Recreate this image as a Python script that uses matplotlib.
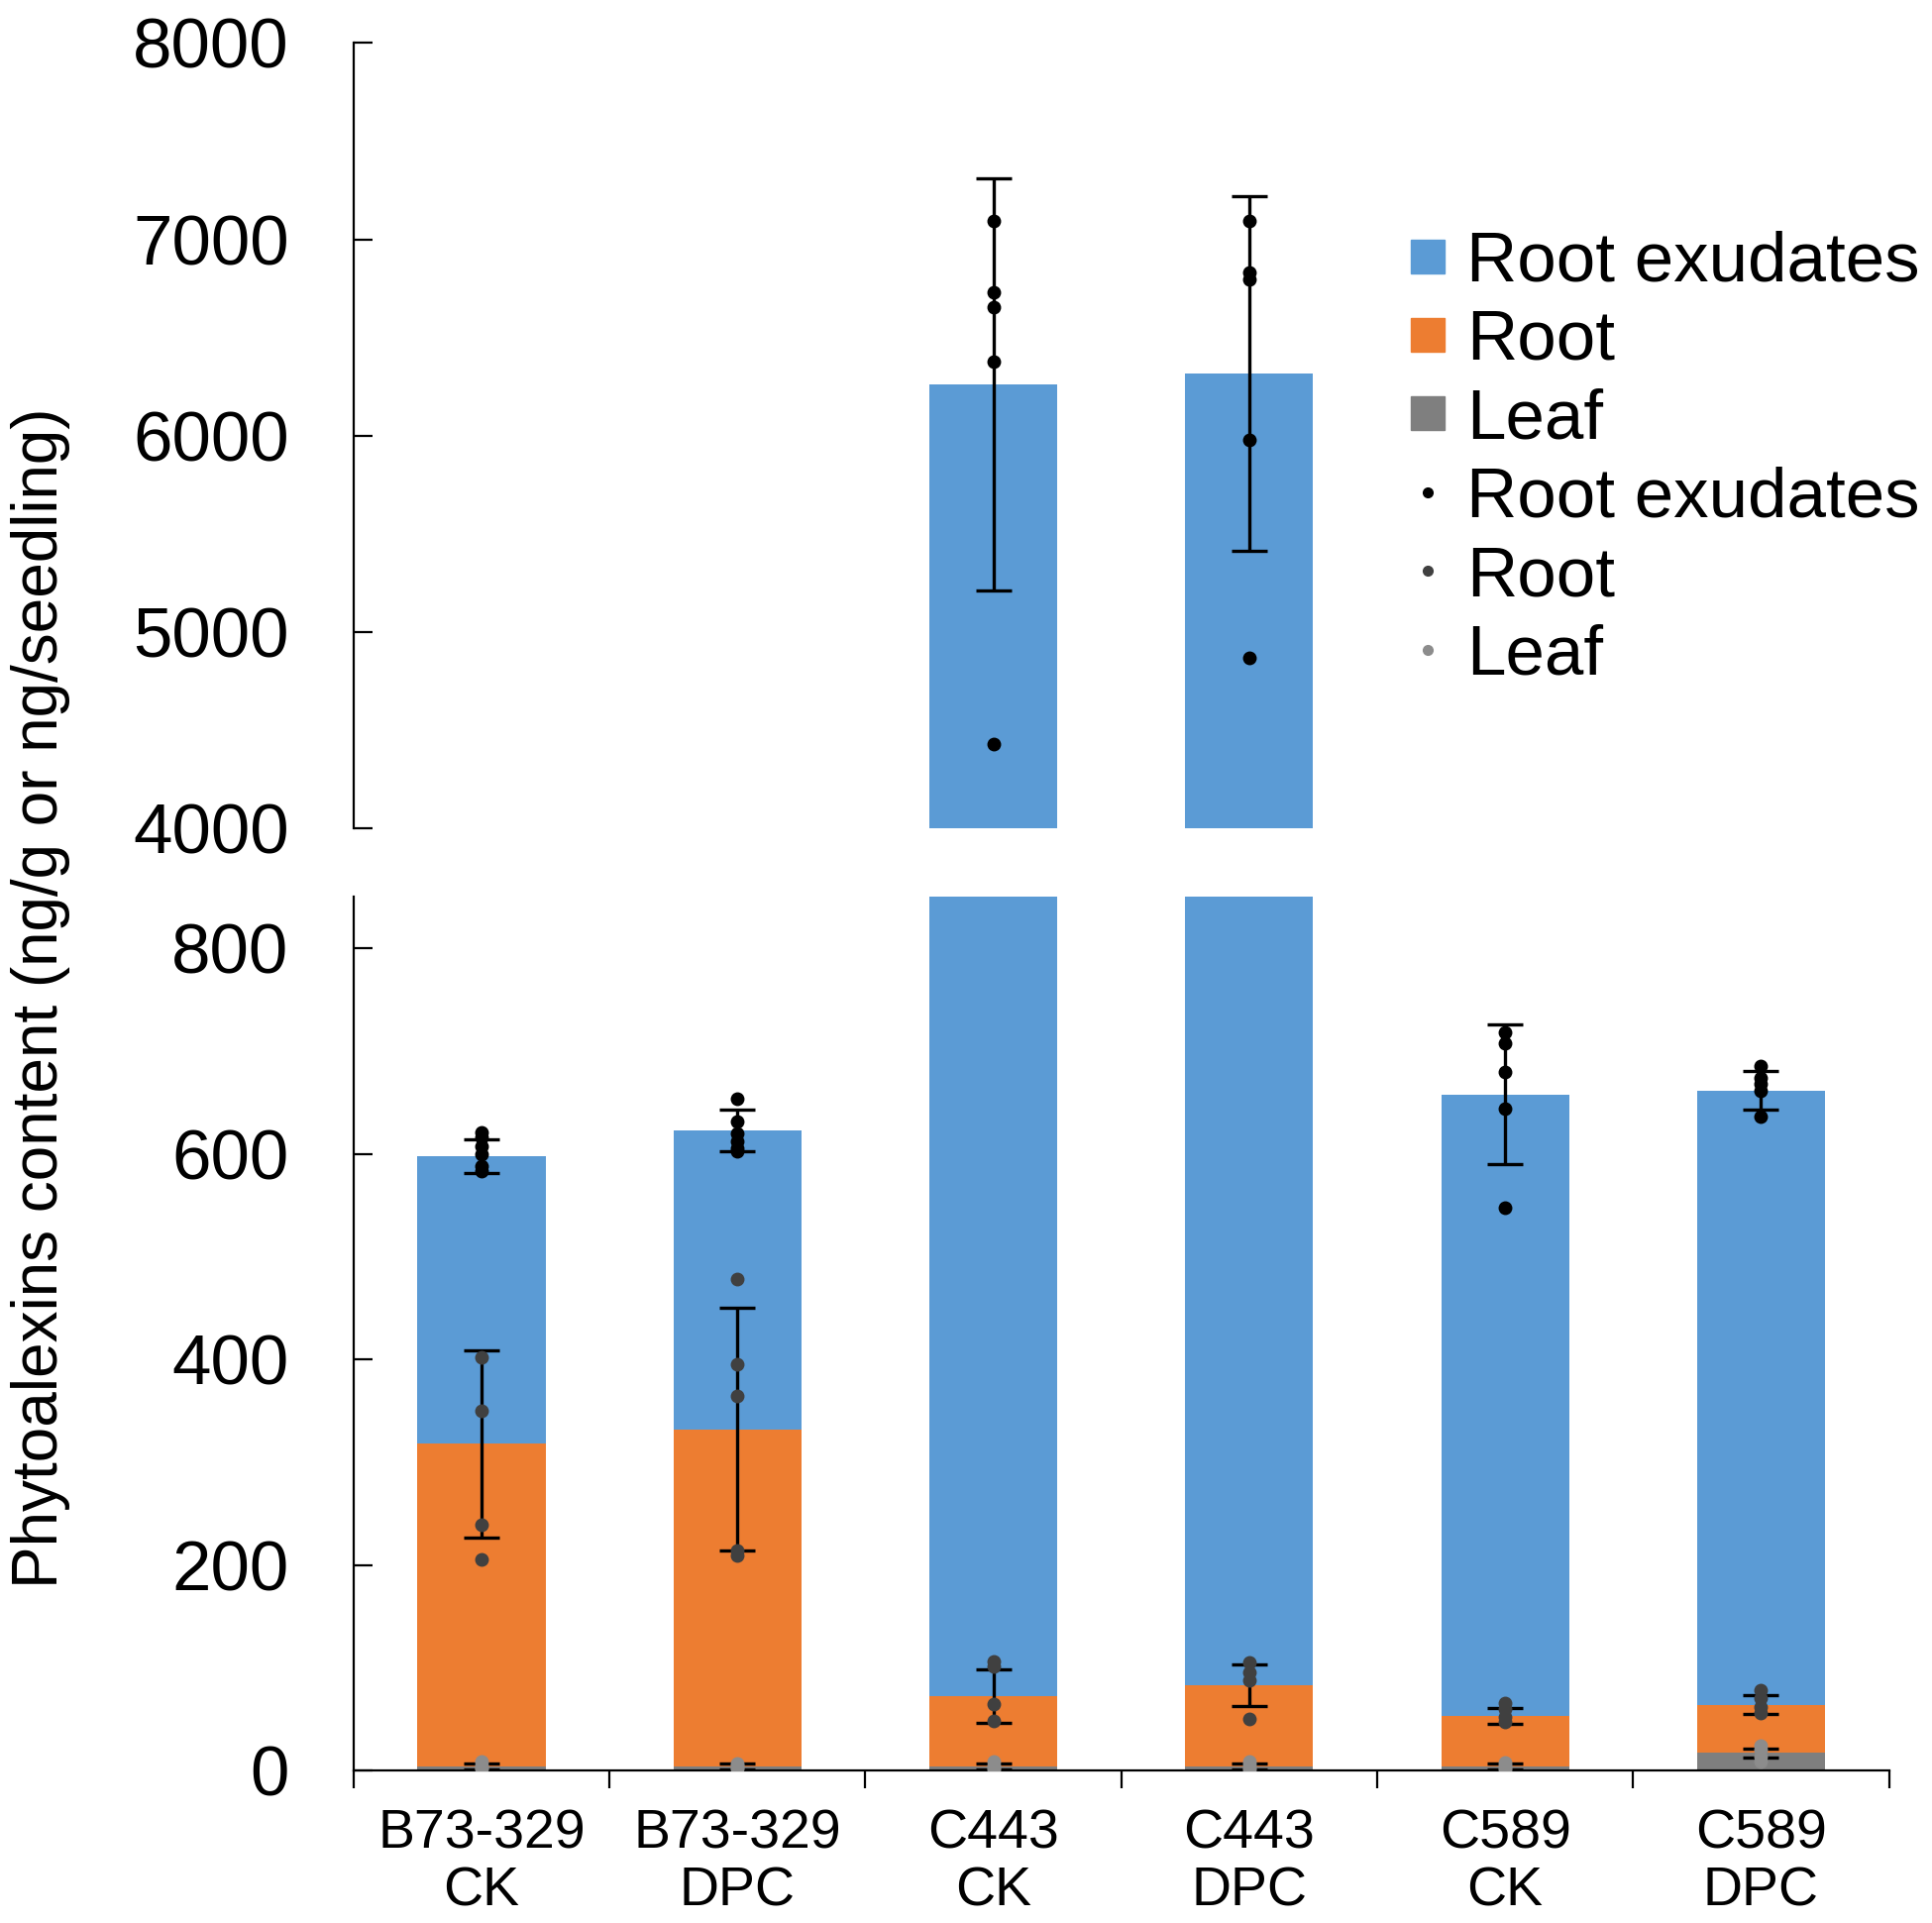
"""Phytoalexin content per organ: stacked bars with a broken y axis."""
import matplotlib

matplotlib.use("Agg")
import matplotlib.pyplot as plt
from matplotlib.lines import Line2D
import numpy as np

plt.rcParams["font.family"] = ["Liberation Sans", "DejaVu Sans"]

groups = ["B73-329\nCK", "B73-329\nDPC", "C443\nCK", "C443\nDPC", "C589\nCK", "C589\nDPC"]

# component means and SDs
leaf_mean = [4, 4, 4, 4, 4, 17]
leaf_sd = [3, 3, 3, 3, 3, 4.5]
root_mean = [314, 328, 68, 79, 49, 47]
root_sd = [91, 118, 26, 20, 7.5, 9]
exud_mean = [280, 291, 6188, 6233, 605, 598]
exud_sd = [16.5, 20, 1051, 902, 68, 18.5]

# replicate points, as plotted on the stacked bars
leaf_pts = [[9, 5, 3, 2], [7, 5, 3, 2], [9, 5, 3, 1], [9, 6, 3, 1], [8, 5, 3, 1], [24, 20, 14, 9]]
root_pts = [[402, 350, 239, 205], [478, 395, 365, 214, 209], [106, 101, 65, 48],
            [105, 96, 88, 50], [66, 60, 52, 47], [78, 70, 62, 56]]
exud_pts = [[621, 616, 608, 600, 588, 583], [654, 632, 620, 612, 606, 603],
            [7094, 6729, 6655, 6379, 4428], [7094, 6830, 6795, 5978, 4868],
            [718, 708, 680, 644, 548], [686, 674, 668, 662, 636]]

C_EXUD, C_ROOT, C_LEAF = "#5B9BD5", "#ED7D31", "#7F7F7F"
D_EXUD, D_ROOT, D_LEAF = "#000000", "#404040", "#8C8C8C"

x = np.arange(len(groups))
leaf = np.array(leaf_mean)
root = np.array(root_mean)
exud = np.array(exud_mean)

fig = plt.figure(figsize=(19.5, 19.41), dpi=100)
ax_hi = fig.add_axes([0.183, 0.5694, 0.7947, 0.4082])
ax_lo = fig.add_axes([0.183, 0.0793, 0.7947, 0.4547])

for ax in (ax_lo, ax_hi):
    ax.bar(x, leaf, 0.5, color=C_LEAF, zorder=2)
    ax.bar(x, root, 0.5, bottom=leaf, color=C_ROOT, zorder=2)
    ax.bar(x, exud, 0.5, bottom=leaf + root, color=C_EXUD, zorder=2)
    eb = dict(fmt="none", ecolor="black", elinewidth=2.4, capsize=13, capthick=2.4, zorder=3)
    ax.errorbar(x, leaf, yerr=leaf_sd, **eb)
    ax.errorbar(x, leaf + root, yerr=root_sd, **eb)
    ax.errorbar(x, leaf + root + exud, yerr=exud_sd, **eb)
    for i in range(len(groups)):
        ax.plot([x[i]] * len(leaf_pts[i]), leaf_pts[i], "o", color=D_LEAF, ms=9, zorder=4)
        ax.plot([x[i]] * len(root_pts[i]), root_pts[i], "o", color=D_ROOT, ms=9, zorder=4)
        ax.plot([x[i]] * len(exud_pts[i]), exud_pts[i], "o", color=D_EXUD, ms=9, zorder=4)
    ax.set_xlim(-0.5, len(groups) - 0.5)
    for s in ("top", "right"):
        ax.spines[s].set_visible(False)
    ax.spines["left"].set_linewidth(1.6)
    ax.spines["bottom"].set_linewidth(1.6)
    ax.tick_params(axis="y", direction="in", length=14, width=1.6, labelsize=51, pad=47)

ax_hi.set_ylim(4000, 8000)
ax_hi.set_yticks([4000, 5000, 6000, 7000, 8000])
ax_hi.spines["bottom"].set_visible(False)
ax_hi.set_xticks([])

ax_lo.set_ylim(0, 851)
ax_lo.set_yticks([0, 200, 400, 600, 800])
ax_lo.set_xticks(x)
ax_lo.set_xticklabels(groups, fontsize=40, linespacing=1.15)
ax_lo.set_xticks(np.arange(-0.5, len(groups)), minor=True)
ax_lo.tick_params(axis="x", which="major", length=0, pad=28)
ax_lo.tick_params(axis="x", which="minor", direction="out", length=13, width=1.6)

fig.text(0.021, 0.481, "Phytoalexins content (ng/g or ng/seedling)", rotation=90,
         ha="center", va="center", fontsize=46)

handles = [
    Line2D([], [], marker="s", ls="", color=C_EXUD, ms=24),
    Line2D([], [], marker="s", ls="", color=C_ROOT, ms=24),
    Line2D([], [], marker="s", ls="", color=C_LEAF, ms=24),
    Line2D([], [], marker="o", ls="", color=D_EXUD, ms=7),
    Line2D([], [], marker="o", ls="", color=D_ROOT, ms=7),
    Line2D([], [], marker="o", ls="", color=D_LEAF, ms=7),
]
labels = ["Root exudates", "Root", "Leaf", "Root exudates", "Root", "Leaf"]
fig.legend(handles, labels, loc="upper left", bbox_to_anchor=(0.728, 0.8803), frameon=False,
           fontsize=51, handlelength=0.6, handletextpad=0.25, labelspacing=0.19,
           borderpad=0, borderaxespad=0)

fig.savefig("out.png", dpi=100)
